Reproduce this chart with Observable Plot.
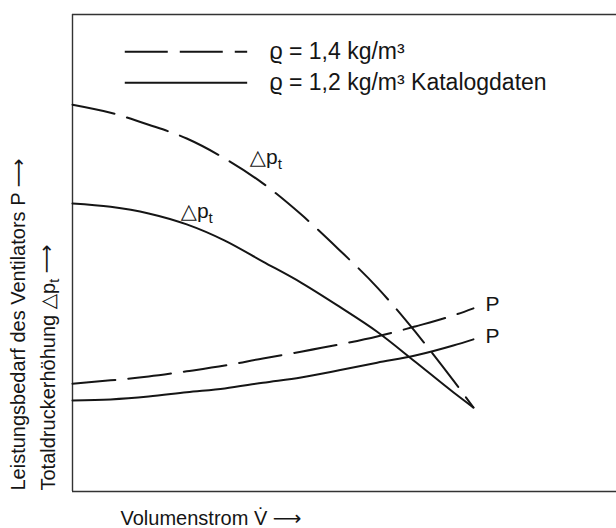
<!DOCTYPE html>
<html><head><meta charset="utf-8">
<script src="https://cdn.jsdelivr.net/npm/d3@7"></script>
<script src="https://cdn.jsdelivr.net/npm/@observablehq/plot@0.6"></script>
<style>html,body{margin:0;padding:0;background:#fff} svg{display:block}</style>
</head><body><div id="chart"></div>
<script>
// Volumenstrom (arbitrary units, 0 = left frame)
const volumeFlow = [0, 7, 14, 21, 28, 35, 42, 49, 56, 63, 70, 73.7];
// Totaldruckerhöhung Δp_t (arbitrary units)
const dpRho14 = [81.1, 79.4, 76.9, 74.0, 69.8, 64.6, 58.1, 50.7, 42.8, 33.5, 23.3, 17.6];
const dpRho12 = [60.4, 59.7, 58.3, 56.0, 52.6, 48.2, 43.8, 38.8, 33.5, 27.2, 20.8, 17.6];
// Leistungsbedarf P (arbitrary units)
const pRho14 = [22.6, 23.3, 24.1, 25.2, 26.4, 27.9, 29.3, 30.8, 32.5, 34.6, 36.9, 38.4];
const pRho12 = [19.1, 19.3, 19.9, 20.8, 21.6, 22.8, 23.9, 25.4, 27.0, 28.5, 30.6, 31.9];
// texts
const legendLabels = ["ϱ = 1,4 kg/m³", "ϱ = 1,2 kg/m³ Katalogdaten"];
const yLabelOuter = "Leistungsbedarf des Ventilators P ⟶";
const yLabelInner = "Totaldruckerhöhung △p_t ⟶";
const xLabel = "Volumenstrom V\u0307 ⟶";
const curveLabelDp = "△p_t";
const curveLabelP = "P";

const rows = (ys) => volumeFlow.map((v, i) => ({v, y: ys[i]}));
const dp14 = rows(dpRho14), dp12 = rows(dpRho12), p14 = rows(pRho14), p12 = rows(pRho12);
const last = (a) => [a[a.length - 1]];

const DASH = "43,13";
const INK = "#151515";
const FONT = "'Liberation Sans', Arial, Helvetica, 'DejaVu Sans', sans-serif";

const chart = Plot.plot({
  width: 616, height: 528,
  marginLeft: 72, marginRight: 0, marginTop: 14, marginBottom: 37,
  x: {domain: [0, 100], axis: null},
  y: {domain: [0, 100], axis: null},
  style: {fontFamily: FONT, background: "#fff", color: INK, overflow: "visible"},
  marks: [
    Plot.ruleX([0], {stroke: "#333", strokeWidth: 1.4}),
    Plot.ruleY([0, 100], {stroke: "#333", strokeWidth: 1.4}),
    Plot.line(dp14, {x: "v", y: "y", curve: "monotone-x", stroke: INK, strokeWidth: 2, strokeDasharray: DASH}),
    Plot.line(dp12, {x: "v", y: "y", curve: "monotone-x", stroke: INK, strokeWidth: 2}),
    Plot.line(p14, {x: "v", y: "y", curve: "monotone-x", stroke: INK, strokeWidth: 2, strokeDasharray: DASH}),
    Plot.line(p12, {x: "v", y: "y", curve: "monotone-x", stroke: INK, strokeWidth: 2}),
    // legend
    Plot.ruleY([92.2], {x1: 9.7, x2: 32.2, stroke: INK, strokeWidth: 2, strokeDasharray: "43,12"}),
    Plot.ruleY([85.7], {x1: 9.7, x2: 32.2, stroke: INK, strokeWidth: 2}),
    Plot.text([legendLabels[0]], {x: 36.2, y: 92.2, textAnchor: "start", lineAnchor: "middle", fontSize: 23, fill: INK}),
    Plot.text([legendLabels[1]], {x: 36.2, y: 85.7, textAnchor: "start", lineAnchor: "middle", fontSize: 23, fill: INK}),
    // curve labels
    Plot.text([dp14[4]], {x: "v", y: "y", text: () => curveLabelDp, dx: 25, dy: -1, textAnchor: "start", lineAnchor: "middle", fontSize: 21, fill: INK}),
    Plot.text([dp12[3]], {x: "v", y: "y", text: () => curveLabelDp, dx: -6, dy: -13, textAnchor: "start", lineAnchor: "middle", fontSize: 21, fill: INK}),
    Plot.text(last(p14), {x: "v", y: "y", text: () => curveLabelP, dx: 12, dy: -4, textAnchor: "start", lineAnchor: "middle", fontSize: 21, fill: INK}),
    Plot.text(last(p12), {x: "v", y: "y", text: () => curveLabelP, dx: 12, dy: -3, textAnchor: "start", lineAnchor: "middle", fontSize: 21, fill: INK}),
    // axis labels
    Plot.text([yLabelOuter], {frameAnchor: "bottom-left", rotate: -90, textAnchor: "start", lineAnchor: "middle", dx: -54, dy: -1, fontSize: 20, fill: INK}),
    Plot.text([yLabelInner], {frameAnchor: "bottom-left", rotate: -90, textAnchor: "start", lineAnchor: "middle", dx: -24, dy: -1, fontSize: 20, fill: INK}),
    Plot.text([xLabel], {frameAnchor: "bottom-left", textAnchor: "start", lineAnchor: "bottom", dx: 48, dy: 33, fontSize: 20, fill: INK})
  ]
});

// subscripts: "_t" -> lowered small t
d3.select(chart).selectAll("text").each(function () {
  const s = this.textContent;
  const k = s.indexOf("_t");
  if (k < 0) return;
  const el = d3.select(this);
  el.text(null);
  el.append("tspan").text(s.slice(0, k));
  el.append("tspan").attr("dy", "0.3em").attr("font-size", "72%").text("t");
  const rest = s.slice(k + 2);
  if (rest) el.append("tspan").attr("dy", "-0.3em").text(rest);
});

document.getElementById("chart").append(chart);
</script>
</body></html>
